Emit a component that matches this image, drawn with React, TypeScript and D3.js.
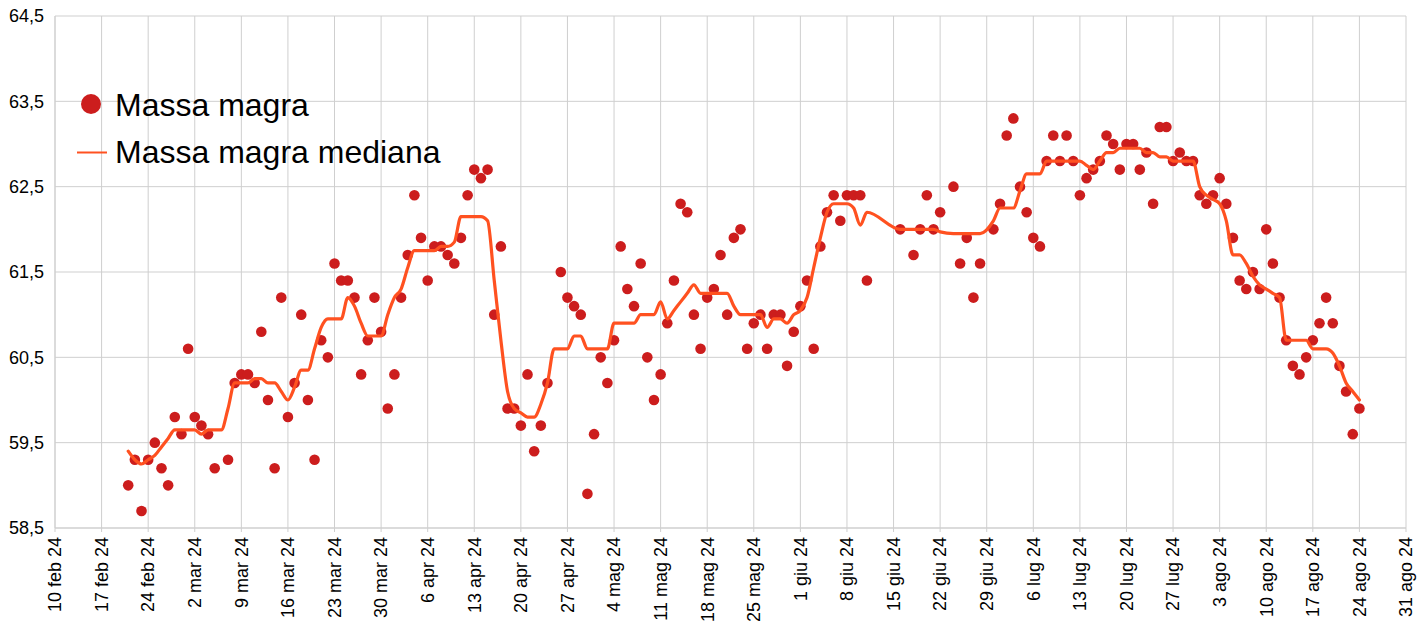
import React from "react";
import * as d3 from "d3";

// ---- data ----
const pointDates = [
  "02-21","02-22","02-23","02-24","02-25","02-26","02-27","02-28","02-29",
  "03-01","03-02","03-03","03-04","03-05","03-07","03-08","03-09","03-10","03-11","03-12","03-13","03-14","03-15","03-16","03-17","03-18","03-19","03-20","03-21","03-22","03-23","03-24","03-25","03-26","03-27","03-28","03-29","03-30","03-31",
  "04-01","04-02","04-03","04-04","04-05","04-06","04-07","04-08","04-09","04-10","04-11","04-12","04-13","04-14","04-15","04-16","04-17","04-18","04-19","04-20","04-21","04-22","04-23","04-24","04-26","04-27","04-28","04-29","04-30",
  "05-01","05-02","05-03","05-04","05-05","05-06","05-07","05-08","05-09","05-10","05-11","05-12","05-13","05-14","05-15","05-16","05-17","05-18","05-19","05-20","05-21","05-22","05-23","05-24","05-25","05-26","05-27","05-28","05-29","05-30","05-31",
  "06-01","06-02","06-03","06-04","06-05","06-06","06-07","06-08","06-09","06-10","06-11","06-16","06-18","06-19","06-20","06-21","06-22","06-24","06-25","06-26","06-27","06-28","06-30",
  "07-01","07-02","07-03","07-04","07-05","07-06","07-07","07-08","07-09","07-10","07-11","07-12","07-13","07-14","07-15","07-16","07-17","07-18","07-19","07-20","07-21","07-22","07-23","07-24","07-25","07-26","07-27","07-28","07-29","07-30","07-31",
  "08-01","08-02","08-03","08-04","08-05","08-06","08-07","08-08","08-09","08-10","08-11","08-12","08-13","08-14","08-15","08-16","08-17","08-18","08-19","08-20","08-21","08-22","08-23","08-24",
];
const pointValues = [
  59.0,59.3,58.7,59.3,59.5,59.2,59.0,59.8,59.6,
  60.6,59.8,59.7,59.6,59.2,59.3,60.2,60.3,60.3,60.2,60.8,60.0,59.2,61.2,59.8,60.2,61.0,60.0,59.3,60.7,60.5,61.6,61.4,61.4,61.2,60.3,60.7,61.2,60.8,59.9,
  60.3,61.2,61.7,62.4,61.9,61.4,61.8,61.8,61.7,61.6,61.9,62.4,62.7,62.6,62.7,61.0,61.8,59.9,59.9,59.7,60.3,59.4,59.7,60.2,61.5,61.2,61.1,61.0,58.9,
  59.6,60.5,60.2,60.7,61.8,61.3,61.1,61.6,60.5,60.0,60.3,60.9,61.4,62.3,62.2,61.0,60.6,61.2,61.3,61.7,61.0,61.9,62.0,60.6,60.9,61.0,60.6,61.0,61.0,60.4,60.8,
  61.1,61.4,60.6,61.8,62.2,62.4,62.1,62.4,62.4,62.4,61.4,62.0,61.7,62.0,62.4,62.0,62.2,62.5,61.6,61.9,61.2,61.6,62.0,
  62.3,63.1,63.3,62.5,62.2,61.9,61.8,62.8,63.1,62.8,63.1,62.8,62.4,62.6,62.7,62.8,63.1,63.0,62.7,63.0,63.0,62.7,62.9,62.3,63.2,63.2,62.8,62.9,62.8,62.8,62.4,
  62.3,62.4,62.6,62.3,61.9,61.4,61.3,61.5,61.3,62.0,61.6,61.2,60.7,60.4,60.3,60.5,60.7,60.9,61.2,60.9,60.4,60.1,59.6,59.9,
];

const medianDates = [
  "02-21","02-22","02-23","02-24","02-25","02-26","02-27","02-28","02-29",
  "03-01","03-02","03-03","03-04","03-05","03-06","03-07","03-08","03-09","03-10","03-11","03-12","03-13","03-14","03-15","03-16","03-17","03-18","03-19","03-20","03-21","03-22","03-23","03-24","03-25","03-26","03-27","03-28","03-29","03-30","03-31",
  "04-01","04-02","04-03","04-04","04-05","04-06","04-07","04-08","04-09","04-10","04-11","04-12","04-13","04-14","04-15","04-16","04-17","04-18","04-19","04-20","04-21","04-22","04-23","04-24","04-25","04-26","04-27","04-28","04-29","04-30",
  "05-01","05-02","05-03","05-04","05-05","05-06","05-07","05-08","05-09","05-10","05-11","05-12","05-13","05-14","05-15","05-16","05-17","05-18","05-19","05-20","05-21","05-22","05-23","05-24","05-25","05-26","05-27","05-28","05-29","05-30","05-31",
  "06-01","06-02","06-03","06-04","06-05","06-06","06-07","06-08","06-09","06-10","06-11","06-16","06-18","06-19","06-20","06-21","06-22","06-24","06-25","06-26","06-27","06-28","06-30",
  "07-01","07-02","07-03","07-04","07-05","07-06","07-07","07-08","07-09","07-10","07-11","07-12","07-13","07-14","07-15","07-16","07-17","07-18","07-19","07-20","07-21","07-22","07-23","07-24","07-25","07-26","07-27","07-28","07-29","07-30","07-31",
  "08-01","08-02","08-03","08-04","08-05","08-06","08-07","08-08","08-09","08-10","08-11","08-12","08-13","08-14","08-15","08-16","08-17","08-18","08-19","08-20","08-21","08-22","08-23","08-24",
];
const medianValues = [
  59.4,59.3,59.25,59.3,59.35,59.45,59.55,59.65,59.65,
  59.65,59.65,59.6,59.65,59.65,59.65,59.9,60.2,60.2,60.2,60.25,60.25,60.2,60.2,60.1,60.0,60.15,60.35,60.35,60.6,60.85,60.95,60.95,60.95,61.2,61.1,60.9,60.75,60.75,60.75,61.0,
  61.2,61.3,61.55,61.75,61.75,61.75,61.75,61.8,61.8,61.85,62.15,62.15,62.15,62.15,62.1,61.4,60.7,60.1,59.9,59.85,59.8,59.8,59.95,60.2,60.6,60.6,60.6,60.75,60.75,60.6,
  60.6,60.6,60.6,60.9,60.9,60.9,60.9,61.0,61.0,61.0,61.15,60.95,61.05,61.15,61.25,61.35,61.25,61.25,61.25,61.25,61.25,61.1,61.0,61.0,61.0,61.0,60.85,60.95,60.95,60.9,61.0,
  61.05,61.2,61.55,61.9,62.2,62.3,62.3,62.3,62.25,62.05,62.2,62.0,62.0,62.0,62.0,62.0,61.97,61.95,61.95,61.95,61.95,61.95,62.1,
  62.25,62.25,62.25,62.45,62.65,62.65,62.65,62.8,62.8,62.8,62.8,62.8,62.8,62.75,62.7,62.8,62.9,62.9,62.95,62.95,62.95,62.95,62.9,62.9,62.85,62.85,62.8,62.8,62.8,62.8,62.5,
  62.4,62.35,62.3,62.1,61.7,61.7,61.6,61.45,61.35,61.3,61.25,61.2,60.7,60.7,60.7,60.7,60.6,60.6,60.6,60.55,60.4,60.2,60.1,60.0,
];

const xTickLabels = [
  "10 feb 24","17 feb 24","24 feb 24","2 mar 24","9 mar 24","16 mar 24","23 mar 24","30 mar 24",
  "6 apr 24","13 apr 24","20 apr 24","27 apr 24","4 mag 24","11 mag 24","18 mag 24","25 mag 24",
  "1 giu 24","8 giu 24","15 giu 24","22 giu 24","29 giu 24","6 lug 24","13 lug 24","20 lug 24",
  "27 lug 24","3 ago 24","10 ago 24","17 ago 24","24 ago 24","31 ago 24",
];
const yTicks = [58.5, 59.5, 60.5, 61.5, 62.5, 63.5, 64.5];
const seriesNames = ["Massa magra", "Massa magra mediana"];

// ---- layout ----
const W = 1428, H = 636;
const M = { left: 55, right: 1406, top: 16, bottom: 528 };
const FONT = "'Liberation Sans', Arial, sans-serif";
const DOT = "#cc1d1d";
const LINE = "#ff5120";
const GRID = "#cfcfcf";

const parse = d3.utcParse("%Y-%m-%d");
const toDate = (s: string) => parse("2024-" + s) as Date;

export default function App() {
  const x = d3.scaleUtc()
    .domain([toDate("02-10"), toDate("08-31")])
    .range([M.left, M.right]);
  const y = d3.scaleLinear().domain([58.5, 64.5]).range([M.bottom, M.top]);

  const xTicks = d3.utcSaturday.range(toDate("02-10"), toDate("09-01"));

  const points = pointDates.map((d, i) => ({ d: toDate(d), v: pointValues[i] }));
  const median = medianDates.map((d, i) => ({ d: toDate(d), v: medianValues[i] }));

  const line = d3.line<{ d: Date; v: number }>()
    .x((p) => x(p.d))
    .y((p) => y(p.v))
    .curve(d3.curveMonotoneX);

  const fmtY = (v: number) => v.toFixed(1).replace(".", ",");

  return (
    <svg
      width={W}
      height={H}
      style={{ position: "absolute", left: 0, top: 0, display: "block", background: "#fff" }}
      fontFamily={FONT}
    >
      <rect x={0} y={0} width={W} height={H} fill="#fff" />
      {/* horizontal grid */}
      {yTicks.map((t) => (
        <line key={"gy" + t} x1={M.left} x2={M.right} y1={y(t)} y2={y(t)} stroke={GRID} strokeWidth={1} />
      ))}
      {/* vertical grid + ticks */}
      {xTicks.map((t, i) => (
        <line key={"gx" + i} x1={x(t)} x2={x(t)} y1={M.top} y2={M.bottom + 4} stroke={GRID} strokeWidth={1} />
      ))}
      {/* axes */}
      <line x1={M.left} x2={M.left} y1={M.top} y2={M.bottom} stroke={GRID} strokeWidth={1} />
      <line x1={M.left} x2={M.right} y1={M.bottom} y2={M.bottom} stroke={GRID} strokeWidth={1} />

      {/* y labels */}
      {yTicks.map((t) => (
        <text key={"ly" + t} x={44} y={y(t)} dy="0.35em" textAnchor="end" fontSize={18} fill="#000">
          {fmtY(t)}
        </text>
      ))}
      {/* x labels */}
      {xTicks.map((t, i) => (
        <text
          key={"lx" + i}
          transform={`translate(${x(t)},${M.bottom + 9}) rotate(-90)`}
          dy="0.35em"
          textAnchor="end"
          fontSize={18}
          fill="#000"
        >
          {xTickLabels[i]}
        </text>
      ))}

      {/* points */}
      {points.map((p, i) => (
        <circle key={"p" + i} cx={x(p.d)} cy={y(p.v)} r={5.3} fill={DOT} />
      ))}
      {/* median line */}
      <path d={line(median) || ""} fill="none" stroke={LINE} strokeWidth={3.2} strokeLinejoin="round" strokeLinecap="round" />

      {/* legend */}
      <circle cx={91} cy={104} r={10} fill={DOT} />
      <text x={115} y={116} fontSize={32} fill="#000">{seriesNames[0]}</text>
      <line x1={77} x2={107} y1={152.5} y2={152.5} stroke={LINE} strokeWidth={2} />
      <text x={115} y={163} fontSize={32} fill="#000">{seriesNames[1]}</text>
    </svg>
  );
}
